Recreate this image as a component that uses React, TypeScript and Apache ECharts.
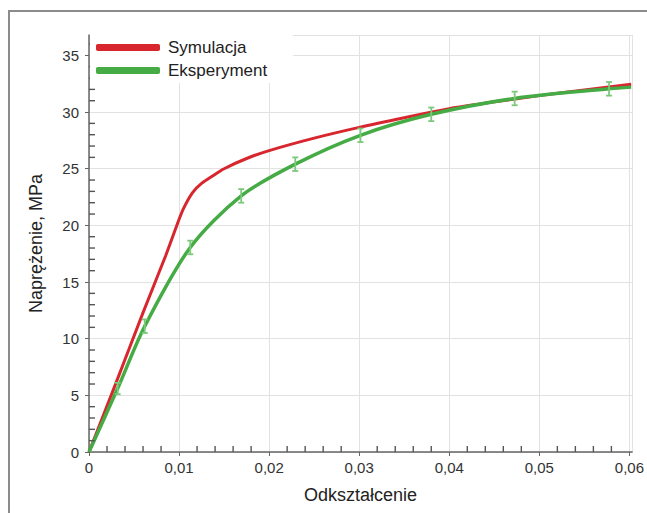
import React, { useEffect, useRef } from "react";
import * as echarts from "echarts";

const xTicks = [0, 0.01, 0.02, 0.03, 0.04, 0.05, 0.06];
const yTicks = [0, 5, 10, 15, 20, 25, 30, 35];
const xMinorTicks = [
  0.002, 0.004, 0.006, 0.008, 0.012, 0.014, 0.016, 0.018, 0.022, 0.024, 0.026, 0.028,
  0.032, 0.034, 0.036, 0.038, 0.042, 0.044, 0.046, 0.048, 0.052, 0.054, 0.056, 0.058,
];
const yMinorTicks = [
  1, 2, 3, 4, 6, 7, 8, 9, 11, 12, 13, 14, 16, 17, 18, 19, 21, 22, 23, 24, 26, 27, 28, 29, 31, 32, 33, 34, 36,
];

const symX = [0, 0.003, 0.006, 0.0085, 0.0098, 0.0105, 0.0115, 0.0125, 0.0138, 0.015, 0.0175, 0.02, 0.025, 0.03, 0.035, 0.04, 0.045, 0.05, 0.055, 0.0602];
const symY = [0, 6.1, 12.3, 17.3, 20.1, 21.5, 22.9, 23.7, 24.4, 25.0, 25.9, 26.6, 27.7, 28.65, 29.5, 30.3, 30.9, 31.45, 31.95, 32.45];

const expX = [0, 0.00318, 0.00619, 0.01124, 0.0169, 0.0229, 0.03014, 0.038, 0.04726, 0.05774, 0.0602];
const expY = [0, 5.6, 11.1, 18.05, 22.6, 25.4, 27.95, 29.8, 31.2, 32.05, 32.2];

const errX = [0.00318, 0.00619, 0.01124, 0.0169, 0.0229, 0.03014, 0.038, 0.04726, 0.05774];
const errY = [5.6, 11.1, 18.05, 22.6, 25.4, 27.95, 29.8, 31.2, 32.05];
const errD = [0.5, 0.6, 0.6, 0.6, 0.6, 0.6, 0.6, 0.6, 0.6];

const RED = "#d8262e";
const GREEN = "#45ab45";
const FONT = "Liberation Sans, Arial, sans-serif";
const X_MAX = 0.0603;
const Y_MAX = 36.8;

export default function App() {
  const ref = useRef<HTMLDivElement>(null);
  useEffect(() => {
    document.body.style.margin = "0";
    const chart = echarts.init(ref.current!, null, { renderer: "svg" });
    const fmt = (v: number) => {
      const t = xTicks.find((k) => Math.abs(k - v) < 1e-9);
      if (t === undefined) return "";
      return t === 0 ? "0" : t.toFixed(2).replace(".", ",");
    };
    const tickData = xMinorTicks
      .map((v) => [v, 0, 0])
      .concat(yMinorTicks.map((v) => [0, v, 1]));
    chart.setOption({
      animation: false,
      backgroundColor: "#fff",
      textStyle: { fontFamily: FONT },
      graphic: [
        {
          type: "rect",
          shape: { x: 9, y: 11, width: 700, height: 600 },
          style: { fill: "none", stroke: "#8c8c8c", lineWidth: 2 },
          z: 0,
        },
      ],
      grid: { left: 89, right: 8, top: 35, bottom: 61 },
      legend: {
        orient: "vertical",
        left: 90,
        top: 35,
        padding: [4, 26, 4, 6],
        itemGap: 6,
        itemWidth: 64,
        itemHeight: 7,
        backgroundColor: "#fff",
        textStyle: { fontSize: 17, color: "#222", fontFamily: FONT, padding: [0, 0, 0, 3] },
        data: [
          { name: "Symulacja", icon: "roundRect", itemStyle: { color: RED } },
          { name: "Eksperyment", icon: "roundRect", itemStyle: { color: GREEN } },
        ],
        z: 10,
      },
      xAxis: {
        type: "value",
        min: 0,
        max: X_MAX,
        interval: 0.01,
        name: "Odkształcenie",
        nameLocation: "middle",
        nameGap: 34,
        nameTextStyle: { fontSize: 18, color: "#222", fontFamily: FONT },
        axisLine: { onZero: false, lineStyle: { color: "#666", width: 1.5 } },
        axisTick: { show: true, inside: false, length: 4, lineStyle: { color: "#666" } },
        axisLabel: { formatter: fmt, fontSize: 15, color: "#333", margin: 8, fontFamily: FONT, showMaxLabel: false },
        splitLine: { show: true, lineStyle: { color: "#e2e2e2", width: 1 } },
      },
      yAxis: {
        type: "value",
        min: 0,
        max: Y_MAX,
        interval: 5,
        name: "Naprężenie, MPa",
        nameLocation: "middle",
        nameGap: 44,
        nameTextStyle: { fontSize: 18, color: "#222", fontFamily: FONT },
        axisLine: { show: true, onZero: false, lineStyle: { color: "#666", width: 1.5 } },
        axisTick: { show: true, inside: false, length: 4, lineStyle: { color: "#666" } },
        axisLabel: {
          formatter: (v: number) => (yTicks.includes(v) ? String(v) : ""),
          fontSize: 15,
          color: "#333",
          margin: 10,
          fontFamily: FONT,
          showMaxLabel: false,
        },
        splitLine: { show: true, lineStyle: { color: "#e2e2e2", width: 1 } },
      },
      series: [
        {
          name: "Eksperyment",
          type: "line",
          data: expX.map((x, i) => [x, expY[i]]),
          smooth: 0.3,
          showSymbol: false,
          lineStyle: { color: GREEN, width: 3.5 },
          itemStyle: { color: GREEN },
          z: 3,
        },
        {
          name: "Symulacja",
          type: "line",
          data: symX.map((x, i) => [x, symY[i]]),
          smooth: 0.3,
          showSymbol: false,
          lineStyle: { color: RED, width: 3 },
          itemStyle: { color: RED },
          z: 2,
        },
        {
          name: "err",
          type: "custom",
          data: errX.map((x, i) => [x, errY[i] - errD[i], errY[i] + errD[i]]),
          renderItem: (params: any, api: any) => {
            const lo = api.coord([api.value(0), api.value(1)]);
            const hi = api.coord([api.value(0), api.value(2)]);
            const w = 3;
            const st = { stroke: "#7cc97c", lineWidth: 1.8 };
            return {
              type: "group",
              children: [
                { type: "line", shape: { x1: lo[0], y1: lo[1], x2: hi[0], y2: hi[1] }, style: st },
                { type: "line", shape: { x1: lo[0] - w, y1: lo[1], x2: lo[0] + w, y2: lo[1] }, style: st },
                { type: "line", shape: { x1: hi[0] - w, y1: hi[1], x2: hi[0] + w, y2: hi[1] }, style: st },
              ],
            };
          },
          z: 4,
        },
        {
          name: "minorTicks",
          type: "custom",
          data: tickData,
          renderItem: (params: any, api: any) => {
            const p = api.coord([api.value(0), api.value(1)]);
            const isY = api.value(2) === 1;
            const st = { stroke: "#555", lineWidth: 1.4 };
            const shape = isY
              ? { x1: p[0], y1: p[1], x2: p[0] + 6, y2: p[1] }
              : { x1: p[0], y1: p[1], x2: p[0], y2: p[1] - 6 };
            return {
              type: "group",
              children: [{ type: "line", shape, style: st }],
            };
          },
          z: 6,
        },
      ],
    });
    return () => chart.dispose();
  }, []);
  return <div ref={ref} style={{ width: 647, height: 513 }} />;
}
